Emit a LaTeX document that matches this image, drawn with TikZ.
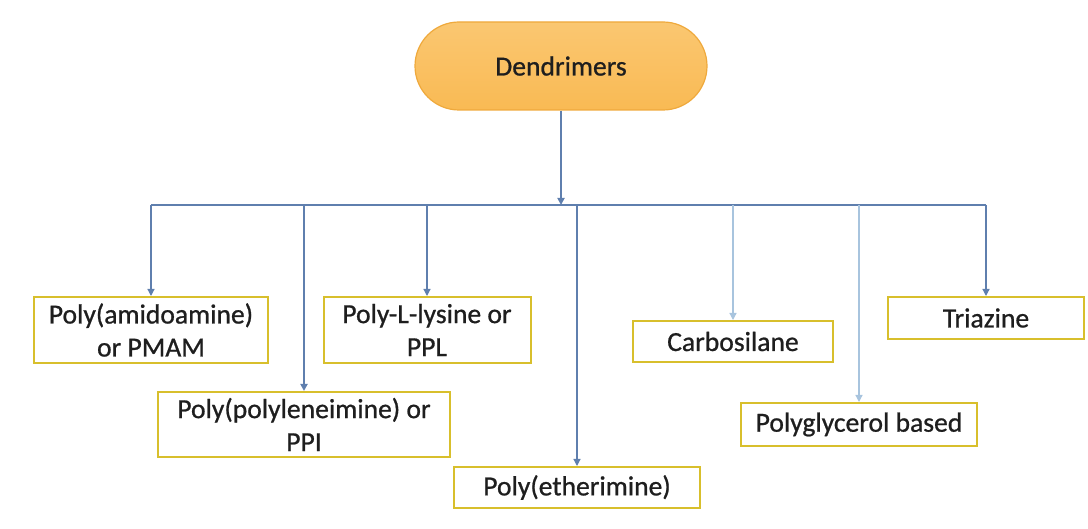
\documentclass[tikz,border=0pt]{standalone}
\usepackage{fontspec}
\setmainfont[FakeBold=0.8]{Carlito}
\usetikzlibrary{arrows.meta}
\definecolor{ovalfill}{HTML}{F9BD58}
\definecolor{ovalline}{HTML}{EFA93C}
\definecolor{boxline}{HTML}{D8BF2C}
\definecolor{linkblue}{HTML}{5F7FAE}
\definecolor{linklight}{HTML}{A8C4DE}
\definecolor{textgray}{HTML}{1E1E1E}
\begin{document}
\begin{tikzpicture}[x=0.5pt, y=-0.5pt,
        every node/.style={font=\fontsize{13.8}{16.5}\selectfont, text=textgray, align=center, inner sep=0pt},
        headnode/.style={draw=ovalline, line width=0.6pt, top color=ovalfill!85!white, bottom color=ovalfill!95!orange, rounded corners=22pt},
        typebox/.style={draw=boxline, line width=1pt, fill=white},
        link/.style={draw=linkblue, line width=0.6pt, -{Triangle[length=3.5pt, width=3.5pt]}},
        lightlink/.style={link, draw=linklight},
        trunk/.style={link, line width=1pt}]
        \useasboundingbox (0,0) rectangle (1088,529);

        % root of the tree
        \node[headnode, minimum width=146pt, minimum height=44pt] (dend) at (561,66) {Dendrimers};

        % the kinds of dendrimers
        \node[typebox, minimum width=117pt, minimum height=33pt] (pmam) at (151,330) {Poly(amidoamine)\\or PMAM};
        \node[typebox, minimum width=103.5pt, minimum height=33pt] (ppl) at (427,330) {Poly-L-lysine or\\PPL};
        \node[typebox, minimum width=146pt, minimum height=32.5pt] (ppi) at (304,424.5) {Poly(polyleneimine) or\\PPI};
        \node[typebox, minimum width=123pt, minimum height=20.5pt] (pei) at (577,487.5) {Poly(etherimine)};
        \node[typebox, minimum width=100pt, minimum height=20.5pt] (carbo) at (733,341.5) {Carbosilane};
        \node[typebox, minimum width=118pt, minimum height=21.5pt] (pgly) at (859,424.5) {Polyglycerol based};
        \node[typebox, minimum width=98pt, minimum height=21pt] (triaz) at (986,318) {Triazine};

        % bus line under the root
        \coordinate (bus) at (561,205);
        \draw[linkblue, line width=0.6pt] (pmam.north |- bus) -- (triaz.north |- bus);
        \draw[trunk] (dend) -- (bus);

        % draw arrows
        \draw[link] (pmam.north |- bus) -- (pmam.north);
        \draw[trunk] (ppi.north |- bus) -- (ppi.north);
        \draw[link] (ppl.north |- bus) -- (ppl.north);
        \draw[link] (pei.north |- bus) -- (pei.north);
        \draw[lightlink] (carbo.north |- bus) -- (carbo.north);
        \draw[lightlink] (pgly.north |- bus) -- (pgly.north);
        \draw[link] (triaz.north |- bus) -- (triaz.north);

    \end{tikzpicture}
\end{document}
